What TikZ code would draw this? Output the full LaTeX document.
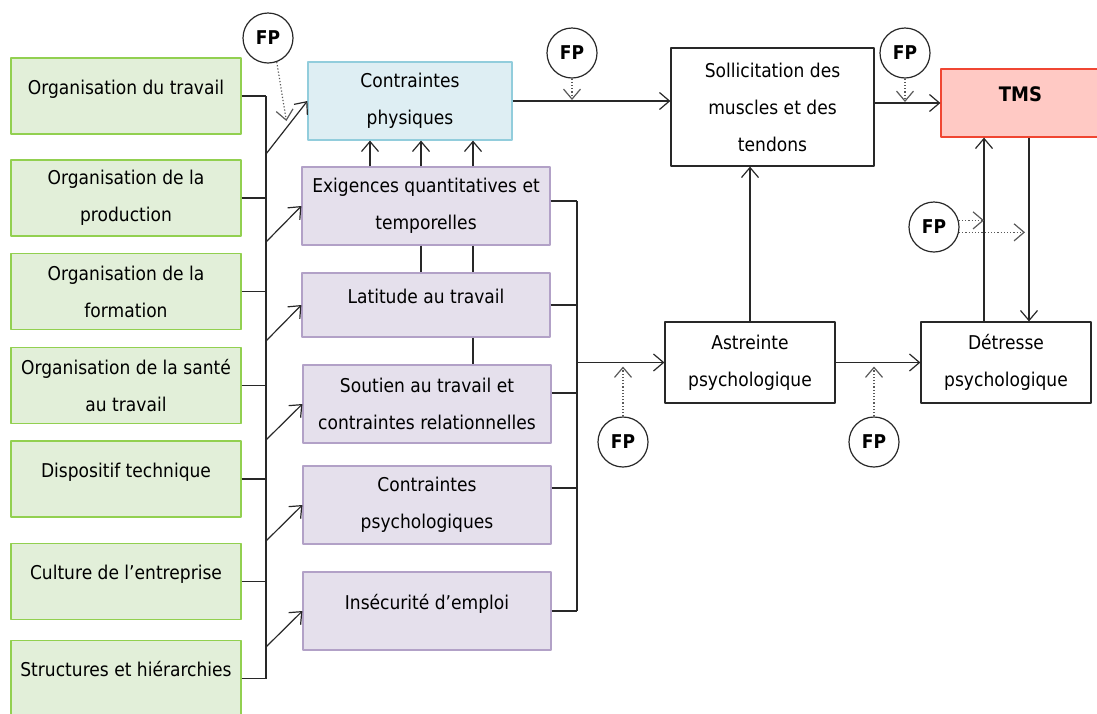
\documentclass[tikz,border=0pt]{standalone}
\usepackage{fontspec}
\setmainfont[FakeStretch=0.9]{DejaVu Sans}
\usetikzlibrary{arrows.meta,calc}
\definecolor{vertfond}{RGB}{226,239,217}
\definecolor{vertbord}{RGB}{146,208,80}
\definecolor{bleufond}{RGB}{222,238,243}
\definecolor{bleubord}{RGB}{146,205,220}
\definecolor{mauvefond}{RGB}{229,224,236}
\definecolor{mauvebord}{RGB}{178,161,199}
\definecolor{rougefond}{RGB}{255,201,196}
\definecolor{rougebord}{RGB}{240,70,50}
\definecolor{trait}{RGB}{40,40,40}
\begin{document}
\begin{tikzpicture}[x=0.5pt, y=-0.5pt, font=\fontsize{9.5}{18.5}\selectfont, line join=round,
  >={Straight Barb[length=5pt,width=8.5pt]},
  boite/.style={draw=trait, line width=0.6pt, align=center, inner sep=2pt},
  facteur/.style={boite, draw=vertbord, fill=vertfond, minimum width=115pt, minimum height=38pt},
  exigence/.style={boite, draw=mauvebord, fill=mauvefond, minimum width=124pt, minimum height=39pt},
  haut/.style={text height=7pt, text depth=9pt},
  fp/.style={draw=trait, circle, line width=0.6pt, minimum size=25pt, inner sep=0pt, font=\bfseries\fontsize{9.5}{10}\selectfont},
  lien/.style={line width=0.6pt, trait},
  pointille/.style={densely dotted, line width=0.6pt, gray!70!black}]
	\useasboundingbox (0,0) rectangle (1097,713);

	\node[facteur, haut] (orgtrav) at (126,96) {Organisation du travail};
	\node[facteur] (orgprod) at (126,198) {Organisation de la\\production};
	\node[facteur] (orgform) at (126,291.5) {Organisation de la\\formation};
	\node[facteur] (orgsante) at (126,385.5) {Organisation de la santé\\au travail};
	\node[facteur, haut] (dispo) at (126,479) {Dispositif technique};
	\node[facteur, haut] (culture) at (126,581.5) {Culture de l'entreprise};
	\node[facteur, haut] (struct) at (126,678.5) {Structures et hiérarchies};

	\node[boite, draw=bleubord, fill=bleufond, minimum width=102pt, minimum height=39pt] (cphys) at (410,101) {Contraintes\\physiques};
	\node[exigence] (exig) at (426,206) {Exigences quantitatives et\\temporelles};
	\node[exigence, haut, minimum height=32pt] (latit) at (426,305) {Latitude au travail};
	\node[exigence] (soutien) at (427,404) {Soutien au travail et\\contraintes relationnelles};
	\node[exigence] (psy) at (427,505) {Contraintes\\psychologiques};
	\node[exigence, haut] (insec) at (427,611) {Insécurité d'emploi};

	\node[boite, minimum width=101.5pt, minimum height=59pt] (solli) at (772.5,107) {Sollicitation des\\muscles et des\\tendons};
	\node[boite, draw=rougebord, fill=rougefond, minimum width=79.5pt, minimum height=34pt, haut, font=\bfseries\fontsize{10}{10}\selectfont] (tms) at (1020.5,103) {TMS};
	\node[boite, minimum width=85pt, minimum height=40.5pt] (astr) at (750,362.5) {Astreinte\\psychologique};
	\node[boite, minimum width=85pt, minimum height=40.5pt] (detr) at (1006,362.5) {Détresse\\psychologique};

	\node[fp] (fp1) at (268,38) {FP};
	\node[fp] (fp2) at (572,53) {FP};
	\node[fp] (fp3) at (905,53) {FP};
	\node[fp] (fp4) at (934,227) {FP};
	\node[fp] (fp5) at (623,442) {FP};
	\node[fp] (fp6) at (874,442) {FP};

	\coordinate (busg) at (266,98);
	\coordinate (busd) at (577,201);
	\coordinate (montee) at ($(detr.north)+(-22,0)$);
	\coordinate (descente) at ($(detr.north)+(23,0)$);

	\foreach \n in {orgtrav,orgprod,orgform,orgsante,dispo,culture,struct}
		\draw[lien] (\n.east) -- (\n.east -| busg);
	\draw[lien] (orgtrav.east -| busg) -- (struct.east -| busg);
	\draw[lien,->] ($(cphys.west -| busg)+(0,53)$) -- (cphys.west);
	\foreach \n in {exig,latit,soutien,psy,insec}
		\draw[lien,->] ($(\n.west -| busg)+(0,36)$) -- (\n.west);
	\draw[pointille,->] (fp1.-70) -- ($(cphys.west)+(-21,20)$);

	\foreach \dx in {-56,-5,47}
		\draw[lien,->] ($(exig.north)+(\dx,0)$) -- ($(exig.north |- cphys.south)+(\dx,0)$);
	\foreach \dx in {-5,47}
		\draw[lien] ($(exig.south)+(\dx,0)$) -- ($(latit.north)+(\dx,0)$);
	\draw[lien] ($(latit.south)+(47,0)$) -- ($(latit.south |- soutien.north)+(47,0)$);

	\foreach \n/\s in {exig/5,latit/0,soutien/11,psy/17,insec/0}
		\draw[lien] ($(\n.east)+(0,-\s)$) -- ($(\n.east -| busd)+(0,-\s)$);
	\draw[lien] ($(exig.east -| busd)+(0,-5)$) -- (insec.east -| busd);
	\draw[lien,->] (astr.west -| busd) -- (astr.west);
	\draw[pointille,->] (fp5.north) -- ($(fp5.north |- astr.west)+(0,4)$);

	\draw[lien,->] (cphys.east) -- (cphys.east -| solli.west);
	\draw[pointille,->] (fp2.south) -- ($(fp2.south |- cphys.east)+(0,-1)$);
	\draw[lien,->] (tms.west -| solli.east) -- (tms.west);
	\draw[pointille,->] (fp3.south) -- ($(fp3.south |- tms.west)+(0,-1)$);

	\draw[lien,->] (astr.north) -- (astr.north |- solli.south);
	\draw[lien,->] (astr.east) -- (detr.west);
	\draw[pointille,->] (fp6.north) -- ($(fp6.north |- astr.east)+(0,4)$);

	\draw[lien,->] (montee) -- (montee |- tms.south);
	\draw[lien,->] (descente |- tms.south) -- (descente);
	\draw[pointille,->] (fp4.15) -- (fp4.15 -| montee);
	\draw[pointille,->] (fp4.-12) -- ($(fp4.-12 -| descente)+(-4,0)$);
\end{tikzpicture}
\end{document}
